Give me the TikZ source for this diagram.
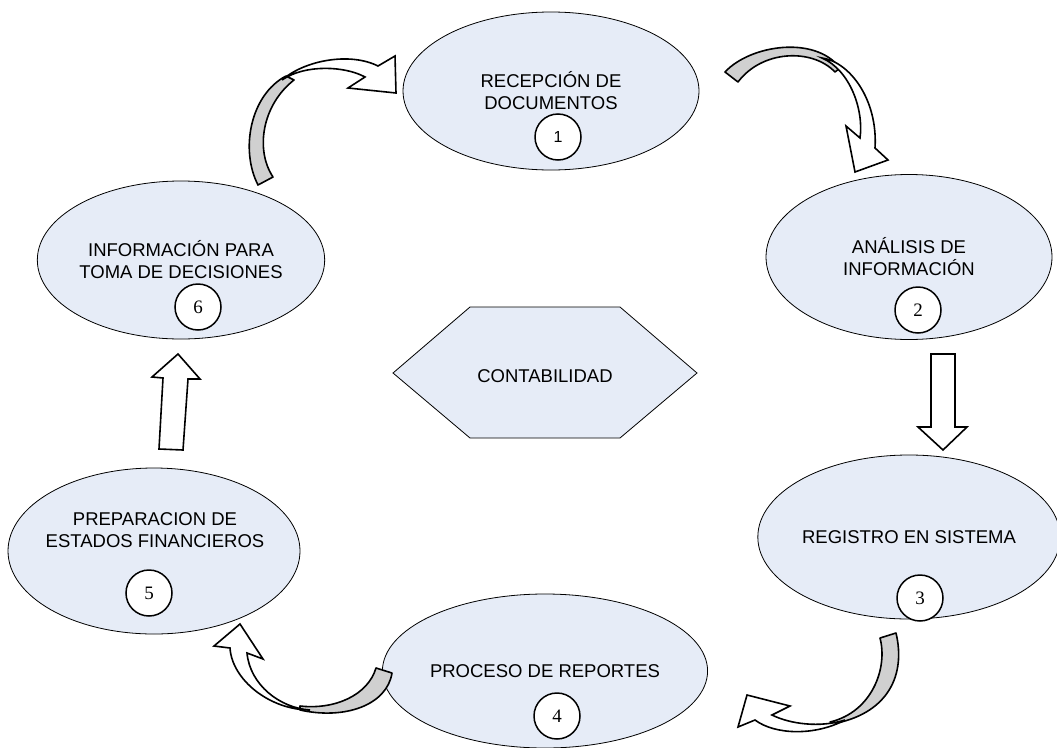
\documentclass[tikz,border=0pt]{standalone}
\usepackage{fontspec}
\setmainfont{Liberation Sans}
\newfontfamily\numfont{Liberation Serif}
\usetikzlibrary{shapes.geometric}
\definecolor{stagefill}{RGB}{230,236,247}
\definecolor{backgray}{RGB}{208,208,208}

\begin{document}
\begin{tikzpicture}[
    x=1pt, y=-1pt,
    every node/.style={font=\fontsize{18.5}{22}\selectfont, align=center, inner sep=0pt},
    stage/.style={ellipse, draw, line width=0.8pt, fill=stagefill},
    num/.style={circle, draw, line width=1.5pt, fill=white, minimum size=46pt, font=\numfont\fontsize{19}{19}\selectfont},
    blockarrow/.style={draw, line width=1.6pt, fill=white, line join=miter},
    backband/.style={draw, line width=1.6pt, fill=backgray, line join=round}
]
\useasboundingbox (0,0) rectangle (1057,747);

\node[stage, minimum width=296pt, minimum height=158pt] (recepcion) at (551,91) {RECEPCIÓN DE\\DOCUMENTOS};
\node[stage, minimum width=286pt, minimum height=165pt] (analisis) at (909,257) {ANÁLISIS DE\\INFORMACIÓN};
\node[stage, minimum width=286pt, minimum height=164pt] (registro) at (909,537) {REGISTRO EN SISTEMA};
\node[stage, minimum width=282pt, minimum height=154pt] (proceso) at (545,671) {PROCESO DE REPORTES};
\node[stage, minimum width=292pt, minimum height=166pt] (preparacion) at (154,551) {};
\node (preparaciontext) at (155,530) {PREPARACION DE\\ESTADOS FINANCIEROS};
\node[stage, minimum width=278pt, minimum height=158pt] (informacion) at (181,260) {INFORMACIÓN PARA\\TOMA DE DECISIONES};

\node[num, font=\fontsize{16}{16}\selectfont] (n1) at (558,137) {1};
\node[num] (n2) at (918,310) {2};
\node[num] (n3) at (920,598) {3};
\node[num] (n4) at (557,716) {4};
\node[num] (n5) at (149,593) {5};
\node[num] (n6) at (198,307) {6};

\draw[line width=0.8pt, fill=stagefill] (393,373) -- (470,307) -- (620,307) -- (697,373) -- (620,438) -- (470,438) -- cycle;
\node (contabilidad) at (545,376) {CONTABILIDAD};

\draw[backband] (258,185) .. controls (240,150) and (250,95) .. (286,76) -- (294,80) .. controls (262,105) and (255,150) .. (273,177) -- cycle;
\draw[blockarrow] (282,80) .. controls (305,60) and (350,52) .. (378,66) -- (395,56) -- (396,93) -- (348,88) -- (365,77) .. controls (345,66) and (305,64) .. (282,80) -- cycle;

\draw[backband] (725,72) .. controls (750,45) and (815,35) .. (840,68) -- (835,72) .. controls (812,48) and (762,50) .. (738,82) -- cycle;
\draw[blockarrow] (822,58) .. controls (850,62) and (878,100) .. (875,148) -- (888,160) -- (855,172) -- (846,126) -- (860,138) .. controls (864,110) and (850,70) .. (822,58) -- cycle;

\draw[blockarrow] (931,354) -- (955,354) -- (955,427) -- (967,427) -- (943,450) -- (918,427) -- (931,427) -- cycle;

\draw[backband] (896,633) .. controls (906,675) and (888,712) .. (837,723) -- (830,722) .. controls (872,712) and (888,668) .. (880,638) -- cycle;
\draw[blockarrow] (845,720) .. controls (815,736) and (775,735) .. (755,720) -- (738,727) -- (747,695) -- (790,706) -- (772,715) .. controls (790,724) and (820,728) .. (845,720) -- cycle;

\draw[backband] (392,673) .. controls (387,705) and (345,720) .. (300,710) -- (300,706) .. controls (335,710) and (368,695) .. (376,668) -- cycle;
\draw[blockarrow] (310,710) .. controls (270,710) and (232,680) .. (230,648) -- (214,646) -- (240,624) -- (263,659) -- (247,653) .. controls (250,685) and (280,708) .. (310,710) -- cycle;

\draw[blockarrow] (159,449) -- (163,378) -- (152,377) -- (178,354) -- (200,379) -- (188,379) -- (183,450) -- cycle;
\end{tikzpicture}
\end{document}
